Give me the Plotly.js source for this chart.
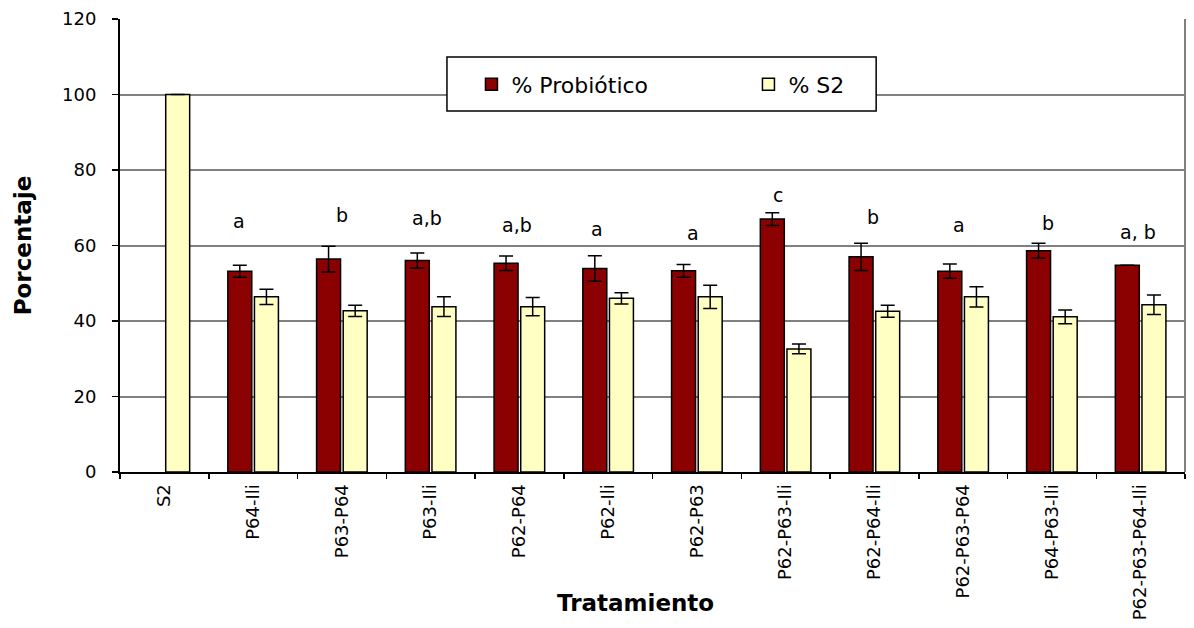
<!DOCTYPE html>
<html>
<head>
<meta charset="utf-8">
<script src="https://cdn.plot.ly/plotly-3.0.1.min.js"></script>
<style>html,body{margin:0;padding:0;background:#fff;}#chart{width:1194px;height:628px;}</style>
</head>
<body>
<div id="chart"></div>
<script>
const categories = ["S2","P64-Ili","P63-P64","P63-Ili","P62-P64","P62-Ili","P62-P63","P62-P63-Ili","P62-P64-Ili","P62-P63-P64","P64-P63-Ili","P62-P63-P64-Ili"];
const probiotico = [null,53.2,56.4,56.0,55.3,53.9,53.3,67.0,57.0,53.2,58.6,54.8];
const probioticoErr = [0,1.6,3.4,2.0,1.9,3.4,1.7,1.7,3.6,1.9,2.0,0];
const s2 = [100,46.4,42.7,43.8,43.8,46.0,46.4,32.6,42.6,46.4,41.1,44.3];
const s2Err = [0,2.0,1.5,2.6,2.4,1.5,3.1,1.3,1.6,2.7,1.8,2.6];
const letters = ["","a","b","a,b","a,b","a","a","c","b","a","b","a, b"];
const letterY = [null,66.4,68.0,67.3,65.4,64.4,63.3,73.4,67.6,65.4,66.0,63.7];
const letterShift = [0,-14,0,-4,-2,-11,-4,-8,-1,-4,-4,-3];
const xTitle = "Tratamiento";
const yTitle = "Porcentaje";

const FONT = "DejaVu Sans, Verdana, sans-serif";

const traces = [
  {
    type: "bar", name: "% Probiótico", x: categories, y: probiotico,
    marker: {color: "#8B0000", line: {color: "#000", width: 1.5}},
    error_y: {type: "data", array: probioticoErr, visible: true, color: "#000", thickness: 1.5, width: 7}
  },
  {
    type: "bar", name: "% S2", x: categories, y: s2,
    marker: {color: "#FFFFC4", line: {color: "#000", width: 1.5}},
    error_y: {type: "data", array: s2Err, visible: true, color: "#000", thickness: 1.5, width: 7}
  }
];

const annotations = [];
letters.forEach((t, i) => {
  if (!t) return;
  annotations.push({
    x: categories[i], y: letterY[i], xref: "x", yref: "y", text: t, showarrow: false,
    xshift: letterShift[i], font: {family: FONT, size: 19, color: "#000"}
  });
});
annotations.push({
  xref: "paper", yref: "paper", x: 0.4845, y: -0.289, xanchor: "center", yanchor: "middle",
  text: "<b>" + xTitle + "</b>", showarrow: false, font: {family: FONT, size: 23, color: "#000"}
});

const layout = {
  width: 1194, height: 628,
  margin: {l: 120, r: 9, t: 19, b: 156},
  paper_bgcolor: "#fff", plot_bgcolor: "#fff",
  barmode: "group", bargap: 0.4, bargroupgap: 0.1,
  font: {family: FONT, size: 18, color: "#000"},
  showlegend: true,
  legend: {
    orientation: "h", x: 0.33, y: 0.902, xanchor: "left", yanchor: "top",
    bgcolor: "rgba(0,0,0,0)", borderwidth: 0,
    font: {family: FONT, size: 22, color: "#000"},
    entrywidth: 232, entrywidthmode: "pixels",
    traceorder: "normal"
  },
  xaxis: {
    type: "category", tickangle: -90, ticks: "outside", tickson: "boundaries",
    ticklen: 5, tickcolor: "#000", tickwidth: 1.5, ticklabelstandoff: 3,
    showline: true, linecolor: "#000", linewidth: 2, showgrid: false,
    tickfont: {family: FONT, size: 18, color: "#000"},
    automargin: false
  },
  yaxis: {
    range: [0, 120], dtick: 20, ticks: "outside", ticklen: 6, tickcolor: "#000", tickwidth: 1.5,
    showline: true, linecolor: "#000", linewidth: 2, ticklabelstandoff: 12,
    showgrid: true, gridcolor: "#808080", gridwidth: 2, zeroline: false,
    tickfont: {family: FONT, size: 18, color: "#000"},
    title: {text: "<b>" + yTitle + "</b>", font: {family: FONT, size: 23, color: "#000"}, standoff: 24},
    automargin: false
  },
  shapes: [
    {type: "line", xref: "paper", yref: "paper", x0: 1, x1: 1, y0: 0, y1: 1, line: {color: "#808080", width: 2}},
    {type: "rect", xref: "paper", yref: "paper", x0: 0.307, x1: 0.710, y0: 0.797, y1: 0.916,
     fillcolor: "#fff", line: {color: "#000", width: 1.5}, layer: "above"}
  ],
  annotations: annotations
};

Plotly.newPlot("chart", traces, layout, {staticPlot: true, displayModeBar: false});
</script>
</body>
</html>
